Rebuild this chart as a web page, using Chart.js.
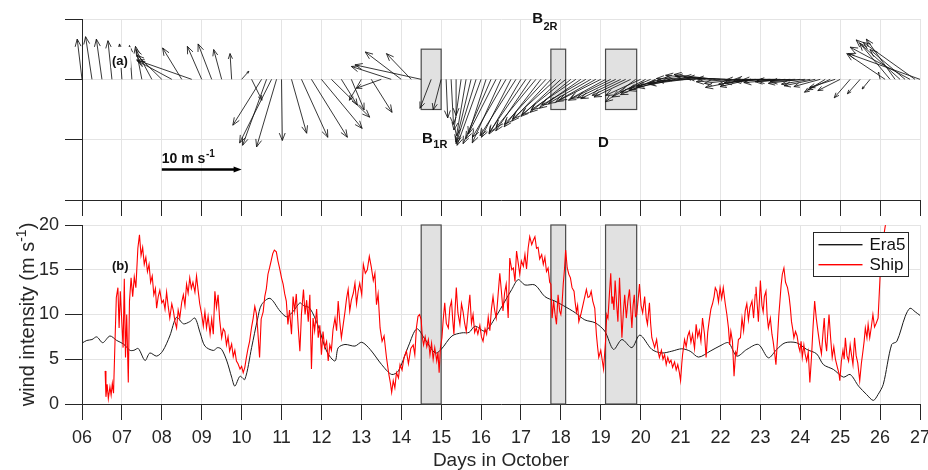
<!DOCTYPE html>
<html>
<head>
<meta charset="utf-8">
<title>Wind in October</title>
<script src="https://cdn.jsdelivr.net/npm/chart.js@4.4.1/dist/chart.umd.min.js"></script>
<style>
  html, body { margin: 0; padding: 0; background: #fff; overflow: hidden; }
  #wrap { position: relative; width: 928px; height: 470px; overflow: hidden; }
  #wrap canvas { position: absolute; left: 0; top: 0; }
</style>
</head>
<body>
<div id="wrap">
  <canvas id="speedChart" width="940" height="470"></canvas>
  <canvas id="featherChart" width="940" height="470"></canvas>
</div>
<script>
// ---- data ----
const dayLabels = ['06', '07', '08', '09', '10', '11', '12', '13', '14', '15', '16',
                   '17', '18', '19', '20', '21', '22', '23', '24', '25', '26', '27'];

// shaded periods (days in October)
const shadedPeriods = [[14.5, 15.0], [17.75, 18.12], [19.12, 19.9]];

// feather vectors: time (day), eastward u and northward v (m/s)
const featherDays = [
  6.0, 6.25, 6.5, 6.75, 7.0, 7.25, 7.5, 7.75, 8.0, 8.25, 8.5, 8.75, 9.0, 9.25, 9.5, 9.75,
  10.0, 10.25, 10.5, 10.625, 10.75, 10.875, 11.0, 11.25, 11.5, 11.75, 12.0, 12.25, 12.5, 12.75,
  13.0, 13.25, 13.5, 13.75, 14.0, 14.25, 14.5, 14.75, 15.0,
  15.125, 15.25, 15.375, 15.5, 15.625, 15.75, 15.875, 16.0, 16.125, 16.25,
  16.375, 16.5, 16.625, 16.75, 16.875, 17.0, 17.125, 17.25, 17.375, 17.5,
  17.625, 17.75, 17.875, 18.0, 18.125, 18.25, 18.375, 18.5, 18.625, 18.75,
  18.875, 19.0, 19.125, 19.25, 19.375, 19.5, 19.625, 19.75, 19.875, 20.0,
  20.125, 20.25, 20.375, 20.5, 20.625, 20.75, 20.875, 21.0, 21.125, 21.25,
  21.375, 21.5, 21.625, 21.75, 21.875, 22.0, 22.125, 22.25, 22.375, 22.5,
  22.625, 22.75, 22.875, 23.0, 23.125, 23.25, 23.375, 23.5, 23.625, 23.75,
  23.875, 24.0, 24.125, 24.25, 24.375, 24.5, 24.625, 24.75, 24.875, 25.0,
  25.25, 25.5, 25.75, 26.0, 26.125, 26.25, 26.375, 26.5, 26.625, 26.75, 26.875, 27.0
];
const featherU = [
  -0.6, -0.8, -0.7, -0.5, -0.3, -0.3, -0.8, -2.0, -3.1, -4.3, -2.4, -6.9, -1.8, -1.7, -1.0, -0.2,
  0.9, 1.3, -3.6, -3.0, -4.0, -2.5, 0.1, 1.9, 3.3, 4.5, 5.1, 4.8, 2.0, 1.6,
  -1.5, 2.6, -3.1, -5.0, -4.5, -3.1, -8.3, -1.4, -1.0,
  0.2, 0.3, 0.0, -0.9, -1.2, -1.9, -2.5, -3.0, -2.2, -3.5,
  -3.8, -3.6, -4.2, -3.7, -4.5, -4.0, -4.6, -4.4, -5.0, -4.6,
  -5.2, -4.9, -5.4, -5.0, -5.5, -5.1, -5.6, -5.2, -5.5, -5.3,
  -5.0, -5.2, -4.4, -5.3, -4.8, -5.0, -4.2, -4.6, -3.8, -4.4,
  -4.2, -3.8, -4.4, -4.0, -4.6, -4.2, -4.8, -4.0, -4.6, -4.2,
  -4.9, -4.5, -5.0, -4.4, -5.2, -4.6, -4.8, -4.2, -4.9, -4.5,
  -5.0, -3.8, -4.6, -4.5, -5.0, -4.6, -5.1, -4.8, -5.2, -4.4,
  -4.8, -4.0, -4.4, -3.6, -3.9, -3.3, -2.6, -2.8, -3.2, -2.8,
  -2.0, -1.6, -1.0, -0.2, -4.8, -3.8, -3.6, -5.5, -4.4, -7.5, -6.5, -9.0
];
const featherV = [
  5.0, 5.3, 5.0, 4.8, 4.4, 4.2, 4.1, 3.7, 3.0, 2.3, 3.9, 2.4, 4.1, 4.4, 3.7, 3.2,
  1.0, -2.6, -5.7, -8.2, -7.9, -8.4, -7.6, -6.7, -7.2, -7.2, -6.1, -4.7, -3.2, -3.8,
  -2.6, -4.1, -1.1, 1.6, 3.4, 3.2, 1.8, -3.6, -3.8,
  -4.8, -5.6, -4.5, -6.3, -7.0, -7.8, -8.0, -8.2, -6.8, -8.0,
  -7.4, -7.9, -7.2, -7.2, -7.0, -6.8, -6.6, -6.4, -6.0, -5.9,
  -5.6, -5.2, -4.9, -4.6, -4.4, -4.1, -3.8, -3.6, -3.2, -3.0,
  -2.8, -2.6, -2.4, -2.6, -2.3, -2.4, -2.0, -2.2, -2.8, -2.0,
  -2.2, -1.6, -1.9, -1.2, -1.4, -0.8, -1.0, -0.5, -0.6, -0.2,
  0.1, 0.2, 0.5, 0.4, 0.6, 0.3, 0.2, 0.1, -0.3, -0.5,
  -1.0, -0.9, -0.6, -0.4, -0.1, -0.2, 0.0, -0.1, -0.4, -0.3,
  -0.2, -0.5, -0.3, -0.6, -0.8, -0.9, -1.6, -1.3, -1.0, -1.4,
  -2.3, -1.8, -1.2, 0.9, 3.2, 4.5, 5.0, 4.9, 3.7, 4.0, 4.6, 3.2
];

// ERA5 wind speed [day, m/s]
const era5Speed = [
  [6.00, 6.8], [6.12, 7.1], [6.25, 7.2], [6.37, 7.5], [6.52, 6.85], [6.70, 7.6], [6.87, 7.1],
  [7.04, 6.7], [7.20, 6.0], [7.30, 6.0], [7.41, 6.2], [7.58, 4.86], [7.70, 5.7], [7.87, 5.35],
  [8.02, 5.9], [8.20, 7.6], [8.37, 9.7], [8.54, 8.96], [8.70, 9.2], [8.83, 9.6], [8.96, 7.95],
  [9.08, 6.47], [9.29, 5.98], [9.40, 6.3], [9.50, 6.1], [9.63, 4.8], [9.75, 3.0], [9.83, 2.0],
  [9.96, 3.1], [10.08, 2.74], [10.25, 6.3], [10.40, 9.5], [10.50, 11.1], [10.71, 11.8],
  [10.96, 10.4], [11.13, 9.74], [11.30, 10.4], [11.46, 11.3], [11.55, 11.0], [11.71, 10.7],
  [11.92, 8.7], [12.13, 5.9], [12.34, 4.8], [12.42, 6.28], [12.59, 6.65], [12.84, 6.47],
  [13.01, 6.9], [13.22, 6.1], [13.51, 4.4], [13.76, 3.3], [13.93, 3.7], [14.18, 6.47],
  [14.39, 8.4], [14.60, 7.2], [14.85, 5.7], [15.00, 6.1], [15.27, 7.6], [15.52, 7.95],
  [15.70, 8.0], [15.85, 8.7], [16.10, 8.14], [16.35, 9.6], [16.60, 11.5], [16.77, 12.8],
  [16.93, 13.9], [17.10, 13.3], [17.35, 13.3], [17.60, 12.0], [17.85, 11.5], [18.06, 11.0],
  [18.36, 10.2], [18.60, 9.4], [18.86, 9.07], [19.10, 8.14], [19.32, 6.1], [19.53, 7.2],
  [19.78, 6.3], [19.98, 7.7], [20.28, 6.1], [20.53, 5.7], [20.78, 5.9], [21.03, 6.17],
  [21.24, 5.9], [21.45, 5.24], [21.74, 5.9], [21.99, 6.5], [22.20, 6.84], [22.41, 5.35],
  [22.66, 6.1], [22.95, 6.65], [23.20, 5.16], [23.41, 6.1], [23.62, 6.84], [23.91, 6.84],
  [24.16, 6.1], [24.41, 5.6], [24.58, 4.4], [24.83, 3.86], [25.08, 3.0], [25.25, 3.3],
  [25.46, 2.0], [25.66, 1.07], [25.83, 0.4], [25.95, 1.07], [26.08, 2.2], [26.29, 6.65],
  [26.42, 7.0], [26.63, 9.8], [26.75, 10.7], [26.88, 10.3], [27.00, 9.9]
];

// ship anemometer wind speed [day, m/s]
const shipSpeed = [
  [6.58, 3.7], [6.60, 0.8], [6.63, 2.2], [6.66, 0.6], [6.70, 1.9], [6.73, 1.0], [6.76, 2.3], [6.79, 1.2],
  [6.82, 5.9], [6.86, 11.9], [6.90, 13.0], [6.93, 8.5], [6.96, 12.6], [7.00, 9.0], [7.03, 6.3], [7.06, 14.0],
  [7.09, 5.2], [7.12, 10.0], [7.16, 2.4], [7.19, 11.5], [7.23, 14.1], [7.27, 12.0], [7.31, 14.2], [7.35, 13.0],
  [7.40, 17.4], [7.44, 18.9], [7.48, 16.6], [7.52, 17.5], [7.56, 15.6], [7.60, 16.4], [7.64, 14.8], [7.68, 15.6],
  [7.72, 13.6], [7.76, 14.3], [7.80, 12.2], [7.84, 12.9], [7.87, 10.7], [7.91, 12.0], [7.95, 12.7], [8.00, 11.3],
  [8.04, 11.6], [8.08, 10.6], [8.12, 12.5], [8.16, 10.9], [8.20, 9.6], [8.25, 11.2], [8.29, 10.4], [8.33, 9.2],
  [8.37, 8.5], [8.41, 10.5], [8.45, 9.6], [8.50, 11.4], [8.54, 12.2], [8.58, 11.0], [8.62, 13.4], [8.66, 12.4],
  [8.70, 14.1], [8.74, 12.9], [8.78, 13.6], [8.83, 12.5], [8.87, 14.3], [8.91, 12.7], [8.95, 11.2], [9.00, 10.0],
  [9.04, 8.7], [9.08, 10.3], [9.12, 8.5], [9.16, 9.8], [9.21, 7.8], [9.25, 9.5], [9.29, 7.8], [9.33, 12.6],
  [9.37, 10.8], [9.41, 12.2], [9.45, 9.4], [9.50, 7.4], [9.54, 8.4], [9.58, 8.1], [9.62, 6.6], [9.66, 7.5],
  [9.70, 5.9], [9.75, 6.7], [9.79, 5.3], [9.83, 6.0], [9.87, 4.8], [9.91, 4.5], [9.96, 3.9], [10.00, 4.2],
  [10.04, 3.5], [10.08, 4.1], [10.12, 5.2], [10.16, 6.2], [10.20, 7.0], [10.25, 8.6], [10.29, 9.6], [10.33, 10.9],
  [10.37, 10.1], [10.40, 8.5], [10.45, 5.2], [10.49, 9.5], [10.54, 10.3], [10.58, 12.0], [10.62, 12.9], [10.66, 14.5],
  [10.70, 15.2], [10.74, 16.0], [10.78, 16.8], [10.82, 17.2], [10.87, 17.0], [10.91, 16.0], [10.95, 15.2], [11.00, 14.1],
  [11.04, 13.4], [11.08, 12.3], [11.12, 11.5], [11.16, 8.9], [11.20, 10.5], [11.25, 7.8], [11.29, 12.0], [11.33, 10.4],
  [11.37, 12.3], [11.42, 8.5], [11.46, 5.9], [11.50, 10.1], [11.55, 12.8], [11.59, 10.0], [11.63, 11.6], [11.67, 9.2],
  [11.71, 12.2], [11.75, 3.9], [11.79, 9.6], [11.83, 8.2], [11.88, 10.6], [11.92, 7.4], [11.96, 8.8], [12.00, 5.5],
  [12.04, 8.1], [12.08, 6.3], [12.13, 7.0], [12.17, 4.8], [12.21, 6.6], [12.25, 6.0], [12.29, 8.3], [12.34, 9.6],
  [12.38, 8.2], [12.42, 11.5], [12.46, 9.2], [12.50, 7.4], [12.55, 9.0], [12.59, 10.3], [12.63, 11.8], [12.67, 12.8],
  [12.71, 10.4], [12.75, 11.6], [12.80, 12.4], [12.84, 13.5], [12.88, 11.2], [12.92, 12.6], [12.96, 13.5], [13.01, 12.2],
  [13.05, 15.6], [13.10, 14.6], [13.15, 15.0], [13.20, 16.5], [13.25, 15.3], [13.30, 13.8], [13.34, 14.6], [13.38, 11.1],
  [13.42, 12.3], [13.47, 8.5], [13.52, 7.0], [13.57, 7.6], [13.63, 5.2], [13.69, 3.3], [13.73, 2.3], [13.76, 1.3],
  [13.80, 2.6], [13.84, 1.8], [13.88, 3.5], [13.93, 2.9], [13.97, 4.4], [14.02, 3.8], [14.07, 5.2], [14.13, 5.9],
  [14.18, 4.5], [14.24, 6.2], [14.30, 6.6], [14.34, 5.5], [14.38, 8.5], [14.42, 9.8], [14.46, 10.0], [14.50, 9.4],
  [14.53, 7.4], [14.56, 6.6], [14.60, 7.5], [14.64, 6.4], [14.68, 7.2], [14.72, 5.5], [14.76, 6.8], [14.80, 5.0],
  [14.84, 6.3], [14.89, 4.8], [14.92, 5.8], [14.95, 3.5], [14.98, 6.2], [15.02, 7.4], [15.05, 9.3], [15.09, 11.3],
  [15.13, 9.0], [15.18, 8.5], [15.22, 10.8], [15.26, 11.5], [15.29, 9.4], [15.32, 7.8], [15.35, 10.6], [15.38, 13.0],
  [15.42, 10.2], [15.47, 8.9], [15.51, 11.2], [15.55, 10.3], [15.59, 9.0], [15.63, 8.1], [15.68, 10.5], [15.72, 12.2],
  [15.76, 9.0], [15.80, 10.0], [15.84, 8.0], [15.88, 8.5], [15.92, 7.8], [15.97, 8.8], [16.01, 7.5], [16.05, 7.0],
  [16.10, 8.4], [16.14, 7.8], [16.18, 9.7], [16.22, 8.2], [16.26, 10.6], [16.30, 12.0], [16.34, 10.5], [16.38, 9.6],
  [16.42, 11.8], [16.47, 14.6], [16.51, 12.6], [16.55, 10.4], [16.59, 12.4], [16.63, 13.4], [16.68, 9.6], [16.72, 16.3],
  [16.77, 15.0], [16.81, 15.2], [16.85, 13.7], [16.89, 17.1], [16.93, 15.8], [16.97, 14.5], [17.01, 16.0], [17.06, 15.4],
  [17.10, 16.7], [17.14, 15.1], [17.18, 17.4], [17.22, 18.7], [17.27, 17.8], [17.31, 18.3], [17.35, 18.7], [17.39, 17.4],
  [17.43, 17.5], [17.47, 16.2], [17.52, 16.7], [17.56, 15.6], [17.60, 16.4], [17.64, 14.8], [17.68, 15.2], [17.72, 13.6],
  [17.75, 13.4], [17.78, 9.6], [17.82, 11.5], [17.85, 10.2], [17.89, 8.9], [17.93, 12.2], [17.97, 10.4], [18.00, 10.0],
  [18.03, 11.2], [18.06, 13.4], [18.09, 15.0], [18.12, 17.2], [18.16, 15.2], [18.20, 14.5], [18.24, 14.1], [18.28, 13.0],
  [18.33, 12.6], [18.36, 11.3], [18.39, 10.3], [18.42, 11.0], [18.45, 9.2], [18.50, 10.0], [18.56, 11.2], [18.60, 12.0],
  [18.64, 12.8], [18.68, 11.9], [18.72, 12.0], [18.76, 12.6], [18.80, 11.5], [18.85, 10.7], [18.89, 7.8], [18.92, 6.4],
  [18.95, 5.2], [19.00, 6.0], [19.04, 4.8], [19.07, 3.9], [19.10, 5.8], [19.12, 7.0], [19.15, 10.0], [19.18, 9.6],
  [19.22, 12.5], [19.25, 14.6], [19.28, 11.2], [19.30, 12.0], [19.33, 10.5], [19.36, 13.8], [19.40, 11.0], [19.43, 9.2],
  [19.47, 14.1], [19.50, 10.8], [19.53, 7.4], [19.57, 10.5], [19.60, 12.2], [19.64, 9.6], [19.68, 11.5], [19.72, 12.8],
  [19.75, 10.6], [19.78, 8.5], [19.81, 11.0], [19.84, 12.2], [19.87, 9.8], [19.90, 10.0], [19.94, 11.8], [19.97, 13.4],
  [20.01, 11.0], [20.05, 10.2], [20.10, 12.0], [20.14, 9.6], [20.17, 8.9], [20.22, 11.3], [20.25, 9.0], [20.28, 7.4],
  [20.32, 6.8], [20.35, 6.3], [20.40, 7.2], [20.44, 5.8], [20.47, 5.2], [20.52, 6.0], [20.56, 5.0], [20.60, 5.5],
  [20.64, 4.4], [20.68, 5.2], [20.72, 4.6], [20.76, 4.9], [20.80, 4.1], [20.85, 4.7], [20.89, 3.8], [20.93, 4.4],
  [20.97, 3.5], [21.00, 2.6], [21.03, 4.5], [21.05, 5.5], [21.10, 7.2], [21.14, 6.4], [21.18, 7.6], [21.22, 8.1],
  [21.26, 6.9], [21.30, 7.8], [21.35, 6.2], [21.39, 8.9], [21.43, 7.5], [21.47, 8.2], [21.51, 7.0], [21.55, 9.6],
  [21.60, 7.8], [21.64, 5.2], [21.68, 8.0], [21.72, 9.4], [21.76, 10.6], [21.80, 11.2], [21.84, 12.0], [21.87, 13.0],
  [21.91, 12.6], [21.95, 11.4], [21.99, 13.0], [22.03, 11.8], [22.07, 13.0], [22.12, 11.2], [22.16, 10.0], [22.20, 8.5],
  [22.23, 6.6], [22.26, 8.1], [22.30, 7.0], [22.34, 3.1], [22.38, 5.8], [22.41, 5.5], [22.45, 7.2], [22.50, 7.4],
  [22.54, 9.6], [22.58, 8.2], [22.62, 10.4], [22.66, 11.2], [22.70, 9.4], [22.74, 10.8], [22.79, 11.5], [22.83, 9.6],
  [22.87, 12.2], [22.89, 13.1], [22.95, 9.2], [23.00, 13.8], [23.04, 11.0], [23.07, 10.3], [23.10, 12.0], [23.14, 12.6],
  [23.17, 9.8], [23.20, 8.5], [23.25, 9.6], [23.29, 7.8], [23.32, 7.0], [23.36, 5.6], [23.39, 4.4], [23.43, 7.4],
  [23.46, 9.8], [23.49, 11.5], [23.52, 13.3], [23.55, 14.5], [23.59, 15.2], [23.63, 13.6], [23.68, 13.0], [23.72, 12.0],
  [23.75, 10.8], [23.78, 9.2], [23.81, 8.4], [23.84, 7.4], [23.88, 8.1], [23.92, 7.6], [23.96, 6.4], [23.99, 5.9],
  [24.02, 7.0], [24.05, 5.2], [24.09, 6.6], [24.12, 5.6], [24.16, 4.8], [24.20, 5.8], [24.24, 2.4], [24.28, 5.2],
  [24.32, 8.6], [24.36, 11.5], [24.40, 9.6], [24.44, 8.2], [24.49, 6.6], [24.53, 5.6], [24.57, 8.0], [24.60, 9.6],
  [24.63, 7.0], [24.66, 5.9], [24.69, 8.1], [24.72, 10.0], [24.76, 7.4], [24.80, 5.2], [24.84, 6.4], [24.88, 5.0],
  [24.93, 4.1], [24.97, 3.4], [24.99, 2.6], [25.03, 4.8], [25.07, 6.0], [25.10, 5.0], [25.13, 7.4], [25.17, 5.4],
  [25.21, 4.8], [25.25, 6.6], [25.28, 5.6], [25.32, 4.4], [25.36, 7.4], [25.40, 5.4], [25.44, 4.6], [25.49, 2.6],
  [25.53, 4.5], [25.57, 5.9], [25.60, 7.0], [25.63, 8.5], [25.67, 7.4], [25.70, 8.9], [25.74, 7.4], [25.78, 8.6],
  [25.82, 10.0], [25.86, 8.6], [25.90, 9.0], [25.95, 9.6], [26.00, 14.3], [26.06, 17.9], [26.13, 19.9], [26.16, 21.0]
];

// ---- styling ----
const FONT = "'Liberation Sans', Arial, Helvetica, sans-serif";
const AXIS = '#262626';
const GRID = '#e4e4e4';
const ERA5_COLOR = '#1a1a1a';
const SHIP_COLOR = '#ff0000';
const DAYS_PER_MS = 0.2;   // feather x-scale: 10 m/s spans 2 days

Chart.defaults.font.family = FONT;
Chart.defaults.color = AXIS;
Chart.defaults.animation = false;

function dayAxis(showLabels) {
  return {
    type: 'linear',
    min: 6,
    max: 27,
    ticks: {
      display: showLabels,
      stepSize: 1,
      autoSkip: false,
      maxRotation: 0,
      padding: 7,
      font: {size: 18},
      color: AXIS,
      callback: (v) => dayLabels[v - 6]
    },
    grid: {color: GRID, tickColor: AXIS, tickLength: 16, lineWidth: 1},
    border: {color: AXIS, width: 1}
  };
}

function drawPeriods(chart, low, high) {
  const {ctx, scales: {x, y}} = chart;
  ctx.save();
  ctx.fillStyle = '#e1e1e1';
  ctx.strokeStyle = '#4a4a4a';
  ctx.lineWidth = 1.2;
  shadedPeriods.forEach(([d0, d1]) => {
    const left = x.getPixelForValue(d0);
    const right = x.getPixelForValue(d1);
    const top = y.getPixelForValue(high);
    const bottom = y.getPixelForValue(low);
    ctx.fillRect(left, top, right - left, bottom - top);
    ctx.strokeRect(left, top, right - left, bottom - top);
  });
  ctx.restore();
}

function drawArrow(ctx, x0, y0, x1, y1, headMax) {
  const dx = x1 - x0, dy = y1 - y0;
  const len = Math.hypot(dx, dy);
  if (!isFinite(len) || len < 0.5) return;
  const a = Math.atan2(dy, dx);
  const h = Math.min(headMax, len * 0.22);
  ctx.beginPath();
  ctx.moveTo(x0, y0);
  ctx.lineTo(x1, y1);
  ctx.moveTo(x1 - h * Math.cos(a - 0.38), y1 - h * Math.sin(a - 0.38));
  ctx.lineTo(x1, y1);
  ctx.lineTo(x1 - h * Math.cos(a + 0.38), y1 - h * Math.sin(a + 0.38));
  ctx.stroke();
}

// main text plus a smaller shifted suffix (sub- or superscript)
function drawScripted(ctx, px, py, main, extra, size, extraSize, shift) {
  ctx.font = `bold ${size}px ${FONT}`;
  ctx.fillText(main, px, py);
  const w = ctx.measureText(main).width;
  ctx.font = `bold ${extraSize}px ${FONT}`;
  ctx.fillText(extra, px + w + 0.5, py + shift);
}

// ---- (a) feather plot ----
const featherPlugin = {
  id: 'featherVectors',
  beforeDatasetsDraw(chart) {
    drawPeriods(chart, -3.75, 3.75);
  },
  afterDatasetsDraw(chart) {
    const {ctx, scales: {x, y}} = chart;
    ctx.save();
    ctx.strokeStyle = '#141414';
    ctx.lineWidth = 0.85;
    featherDays.forEach((t, i) => {
      drawArrow(ctx,
        x.getPixelForValue(t), y.getPixelForValue(0),
        x.getPixelForValue(t + featherU[i] * DAYS_PER_MS), y.getPixelForValue(featherV[i]), 8);
    });

    // reference vector: 10 m/s eastward
    ctx.strokeStyle = '#000';
    ctx.fillStyle = '#000';
    ctx.lineWidth = 2.4;
    const ax0 = x.getPixelForValue(8), ax1 = x.getPixelForValue(8 + 10 * DAYS_PER_MS);
    const ay = y.getPixelForValue(-11.2);
    ctx.beginPath();
    ctx.moveTo(ax0, ay);
    ctx.lineTo(ax1 - 6, ay);
    ctx.stroke();
    ctx.beginPath();
    ctx.moveTo(ax1, ay);
    ctx.lineTo(ax1 - 8, ay - 3);
    ctx.lineTo(ax1 - 8, ay + 3);
    ctx.closePath();
    ctx.fill();

    ctx.fillStyle = '#111';
    ctx.textBaseline = 'alphabetic';
    ctx.textAlign = 'left';
    drawScripted(ctx, x.getPixelForValue(8), y.getPixelForValue(-10.44), '10 m s', '-1', 14, 10, -6);

    // panel tag on a white patch
    ctx.font = `bold 13px ${FONT}`;
    const tx = x.getPixelForValue(6.75), ty = y.getPixelForValue(1.8);
    const tw = ctx.measureText('(a)').width;
    ctx.fillStyle = '#fff';
    ctx.fillRect(tx - 1, ty - 18, tw + 4, 21);
    ctx.fillStyle = '#111';
    ctx.fillText('(a)', tx, ty);

    drawScripted(ctx, x.getPixelForValue(14.52), y.getPixelForValue(-7.94), 'B', '1R', 15, 11, 5);
    drawScripted(ctx, x.getPixelForValue(17.28), y.getPixelForValue(7.06), 'B', '2R', 15, 11, 7);
    ctx.font = `bold 15px ${FONT}`;
    ctx.fillText('D', x.getPixelForValue(18.93), y.getPixelForValue(-8.44));
    ctx.restore();
  }
};

new Chart(document.getElementById('featherChart'), {
  type: 'scatter',
  data: {datasets: []},
  options: {
    responsive: false,
    layout: {padding: {top: 19, left: 0, right: 20, bottom: 250}},
    plugins: {legend: {display: false}, tooltip: {enabled: false}},
    scales: {
      x: Object.assign(dayAxis(false), {
        afterFit: (scale) => { scale.height = 20; }
      }),
      y: {
        min: -15,
        max: 7.5,
        ticks: {display: false, stepSize: 7.5},
        grid: {color: GRID, tickColor: AXIS, tickLength: 17},
        border: {color: AXIS, width: 1},
        afterFit: (scale) => { scale.width = 82; }
      }
    }
  },
  plugins: [featherPlugin]
});

// ---- (b) wind intensity ----
const speedPlugin = {
  id: 'speedDecor',
  beforeDatasetsDraw(chart) {
    drawPeriods(chart, 0, 20);
  },
  afterDraw(chart) {
    const {ctx, chartArea: ca, scales: {x, y}} = chart;
    ctx.save();

    // y-axis title with superscript unit
    const main = 'wind intensity (m s';
    ctx.font = `20px ${FONT}`;
    const w1 = ctx.measureText(main).width;
    const w3 = ctx.measureText(')').width;
    ctx.font = `14px ${FONT}`;
    const w2 = ctx.measureText('-1').width;
    ctx.translate(33.5, (ca.top + ca.bottom) / 2);
    ctx.rotate(-Math.PI / 2);
    ctx.fillStyle = AXIS;
    ctx.textBaseline = 'alphabetic';
    ctx.textAlign = 'left';
    let cx = -(w1 + w2 + w3) / 2;
    ctx.font = `20px ${FONT}`;
    ctx.fillText(main, cx, 0);
    cx += w1;
    ctx.font = `14px ${FONT}`;
    ctx.fillText('-1', cx, -8);
    cx += w2;
    ctx.font = `20px ${FONT}`;
    ctx.fillText(')', cx, 0);
    ctx.setTransform(1, 0, 0, 1, 0, 0);

    // panel tag
    ctx.fillStyle = '#111';
    ctx.font = `bold 13px ${FONT}`;
    ctx.fillText('(b)', x.getPixelForValue(6.75), y.getPixelForValue(15));

    // legend box
    const bx = Math.round(ca.right - 107) + 0.5, by = Math.round(ca.top + 7) + 0.5, bw = 95, bh = 44;
    ctx.fillStyle = '#fff';
    ctx.fillRect(bx, by, bw, bh);
    ctx.strokeStyle = AXIS;
    ctx.lineWidth = 1;
    ctx.strokeRect(bx, by, bw, bh);
    ctx.font = `17px ${FONT}`;
    ctx.textBaseline = 'middle';
    const entries = [['Era5', ERA5_COLOR], ['Ship', SHIP_COLOR]];
    entries.forEach(([label, color], i) => {
      const ly = Math.round(by + 11 + i * 20);
      ctx.fillStyle = color;
      ctx.fillRect(bx + 5, ly, 44, 1.4);
      ctx.fillStyle = '#111';
      ctx.fillText(label, bx + 56, ly + 1);
    });
    ctx.restore();
  }
};

new Chart(document.getElementById('speedChart'), {
  type: 'line',
  data: {
    datasets: [
      {
        label: 'Era5',
        data: era5Speed.map(([d, v]) => ({x: d, y: v})),
        borderColor: ERA5_COLOR,
        borderWidth: 1,
        pointRadius: 0,
        tension: 0.3,
        order: 1
      },
      {
        label: 'Ship',
        data: shipSpeed.map(([d, v]) => ({x: d, y: v})),
        borderColor: SHIP_COLOR,
        borderWidth: 1.1,
        pointRadius: 0,
        tension: 0,
        order: 0
      }
    ]
  },
  options: {
    responsive: false,
    layout: {padding: {top: 225, left: 0, right: 20, bottom: 0}},
    plugins: {legend: {display: false}, tooltip: {enabled: false}},
    scales: {
      x: Object.assign(dayAxis(true), {
        title: {
          display: true,
          text: 'Days in October',
          font: {size: 19, lineHeight: 1},
          color: AXIS,
          padding: 0
        },
        afterFit: (scale) => { scale.height = 66; }
      }),
      y: {
        min: 0,
        max: 20,
        ticks: {stepSize: 5, padding: 6, font: {size: 18}, color: AXIS},
        grid: {color: GRID, tickColor: AXIS, tickLength: 17},
        border: {color: AXIS, width: 1},
        afterFit: (scale) => { scale.width = 82; }
      }
    }
  },
  plugins: [speedPlugin]
});
</script>
</body>
</html>
